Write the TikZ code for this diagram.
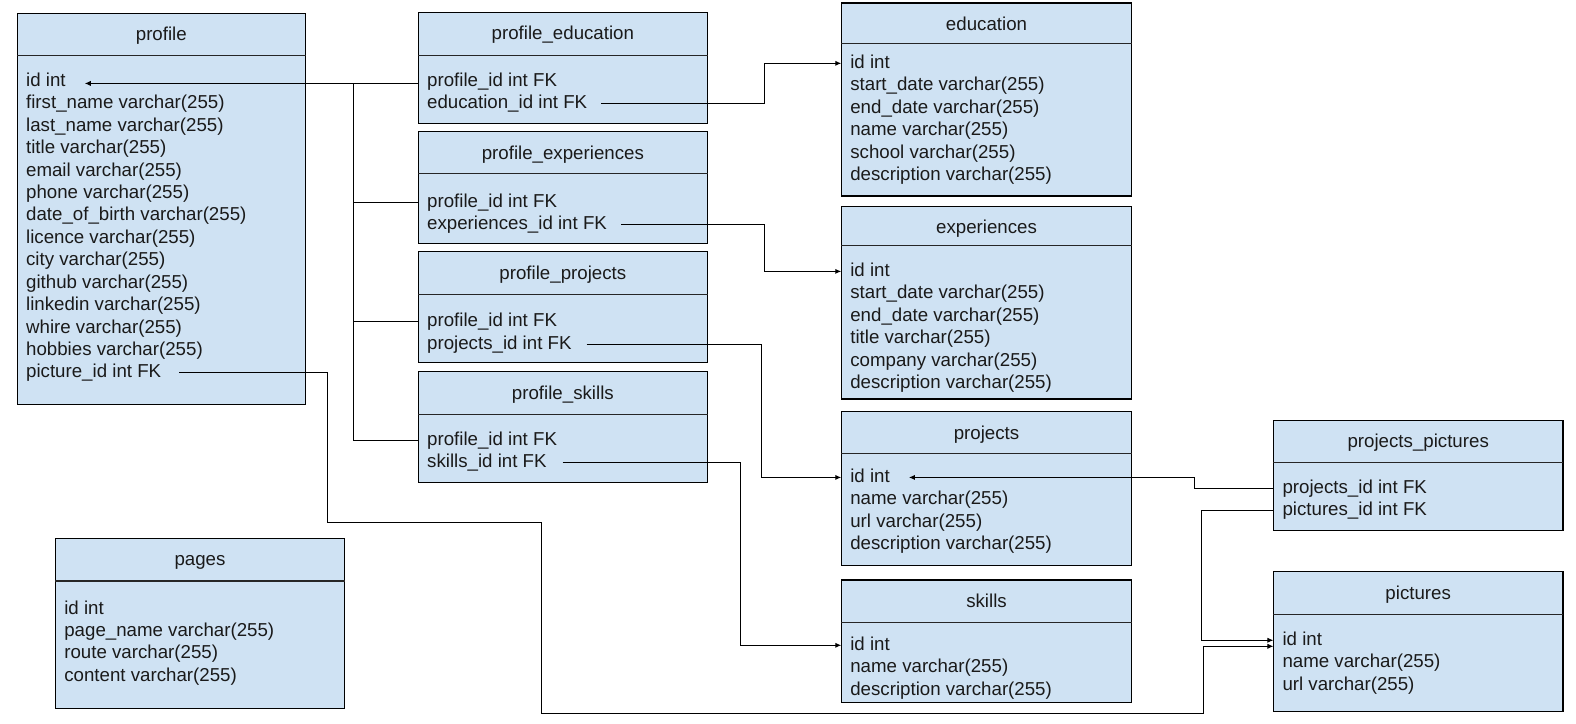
\documentclass[tikz,border=0pt]{standalone}
\usepackage{fontspec}
\setmainfont{Liberation Sans}
\usetikzlibrary{arrows.meta}
\definecolor{tblfill}{HTML}{CFE2F3}
\definecolor{ink}{HTML}{1A1A1A}
\tikzset{
  tbox/.style={rectangle, draw=black, fill=tblfill, line width=0.55pt, inner sep=0pt, outer sep=0pt},
  divl/.style={draw=black!85, line width=0.55pt},
  ttl/.style={font=\fontsize{9.3}{11}\selectfont, inner sep=0pt, text height=0.7em, text depth=0.2em, text=ink},
  fld/.style={anchor=west, font=\fontsize{9.3}{11}\selectfont, inner sep=0pt, outer sep=0pt, text height=0.7em, text depth=0.2em, text=ink},
  conn/.style={draw=black, line width=0.5pt},
  arr/.style={conn, -{Latex[length=3pt,width=2.6pt]}},
}
% #1 name, #2 x1, #3 y1, #4 x2, #5 y2, #6 y divider, #7 y title, #8 title
\newcommand\ertable[8]{%
  \node[tbox, anchor=north west, minimum width={(#4-#2)*0.5pt}, minimum height={(#5-#3)*0.5pt}] (#1) at (#2,#3) {};
  \draw[divl] (#1.west |- 0,#6) -- (#1.east |- 0,#6);
  \node[ttl] (#1-t) at ({(#2+#4)/2},{#7+1}) {#8};
}
% #1 name, #2 x, #3 y of first row, #4 rows
\newcommand\erfields[4]{%
  \foreach \f [count=\i] in {#4} {
    \node[fld] (#1-\i) at ({#2+9},{#3+1+(\i-1)*22.3}) {\f};
  }
}
\begin{document}
\begin{tikzpicture}[x=0.5pt,y=-0.5pt]
\useasboundingbox (0,0) rectangle (1568,720);
\fill[white] (0,0) rectangle (1568,720);

% tables
\ertable{prof}{17}{13}{304}{402}{55}{34}{profile}
\erfields{prof}{17}{80}{id int, first\_name varchar(255), last\_name varchar(255), title varchar(255), email varchar(255), phone varchar(255), date\_of\_birth varchar(255), licence varchar(255), city varchar(255), github varchar(255), linkedin varchar(255), whire varchar(255), hobbies varchar(255), picture\_id int FK}

\ertable{pedu}{416}{12}{704}{123}{55}{33}{profile\_education}
\erfields{pedu}{416}{80}{profile\_id int FK, education\_id int FK}

\ertable{pexp}{416}{131}{704}{242}{173}{153}{profile\_experiences}
\erfields{pexp}{416}{200}{profile\_id int FK, experiences\_id int FK}

\ertable{pproj}{416}{250}{704}{361}{293}{272}{profile\_projects}
\erfields{pproj}{416}{319}{profile\_id int FK, projects\_id int FK}

\ertable{pskl}{416}{370}{704}{480}{412}{391}{profile\_skills}
\erfields{pskl}{416}{437}{profile\_id int FK, skills\_id int FK}

\ertable{edu}{837}{3}{1126}{195}{43}{24}{education}
\erfields{edu}{837}{62}{id int, start\_date varchar(255), end\_date varchar(255), name varchar(255), school varchar(255), description varchar(255)}

\ertable{exp}{837}{205}{1126}{397}{244}{226}{experiences}
\erfields{exp}{837}{269}{id int, start\_date varchar(255), end\_date varchar(255), title varchar(255), company varchar(255), description varchar(255)}

\ertable{proj}{837}{409}{1126}{563}{451}{431}{projects}
\erfields{proj}{837}{474}{id int, name varchar(255), url varchar(255), description varchar(255)}

\ertable{skl}{837}{577}{1126}{699}{619}{598}{skills}
\erfields{skl}{837}{641}{id int, name varchar(255), description varchar(255)}

\ertable{prpic}{1267}{418}{1555}{528}{460}{439}{projects\_pictures}
\erfields{prpic}{1267}{485}{projects\_id int FK, pictures\_id int FK}

\ertable{pic}{1267}{569}{1555}{708}{611}{590}{pictures}
\erfields{pic}{1267}{636}{id int, name varchar(255), url varchar(255)}

\ertable{pages}{55}{536}{343}{705}{578}{557}{pages}
\erfields{pages}{55}{605}{id int, page\_name varchar(255), route varchar(255), content varchar(255)}

% connectors
\coordinate (bus) at (352,0);
\coordinate (pidin) at ([yshift=-1pt]prof-1.east);
\draw[arr] (pedu.west |- pidin) -- ([xshift=9.5pt]pidin);
\foreach \n in {pexp,pproj,pskl}
  \draw[conn] (\n.west |- \n-1) -| (bus |- pidin);

\coordinate (v2) at (761,0);
\draw[arr] ([xshift=7pt]pedu-2.east) -| (v2 |- edu-1) -- (edu.west |- edu-1);
\draw[arr] ([xshift=7pt]pexp-2.east) -| (v2 |- exp-1) -- (exp.west |- exp-1);
\coordinate (v4) at (758,0);
\draw[arr] ([xshift=7.5pt]pproj-2.east) -| (v4 |- proj-1) -- (proj.west |- proj-1);
\coordinate (v5) at (737,0);
\draw[arr] ([xshift=8pt]pskl-2.east) -| (v5 |- skl-1) -- (skl.west |- skl-1);

\coordinate (w1) at (326,520);
\coordinate (w2) at (539,710);
\coordinate (w3) at (1197,0);
\coordinate (picin) at ([yshift=-3pt]pic-1.west);
\draw[arr] ([xshift=9pt]prof-14.east) -| (w1) -| (w2) -| (w3 |- picin) -- (pic.west |- picin);

\coordinate (v7) at (1188,0);
\draw[arr] (prpic.west |- prpic-1) -| (v7 |- proj-1) -- ([xshift=9.5pt]proj-1.east);
\coordinate (v8) at (1195,0);
\draw[arr] (prpic.west |- prpic-2) -| (v8 |- pic-1) -- (pic.west |- pic-1);
\end{tikzpicture}
\end{document}
